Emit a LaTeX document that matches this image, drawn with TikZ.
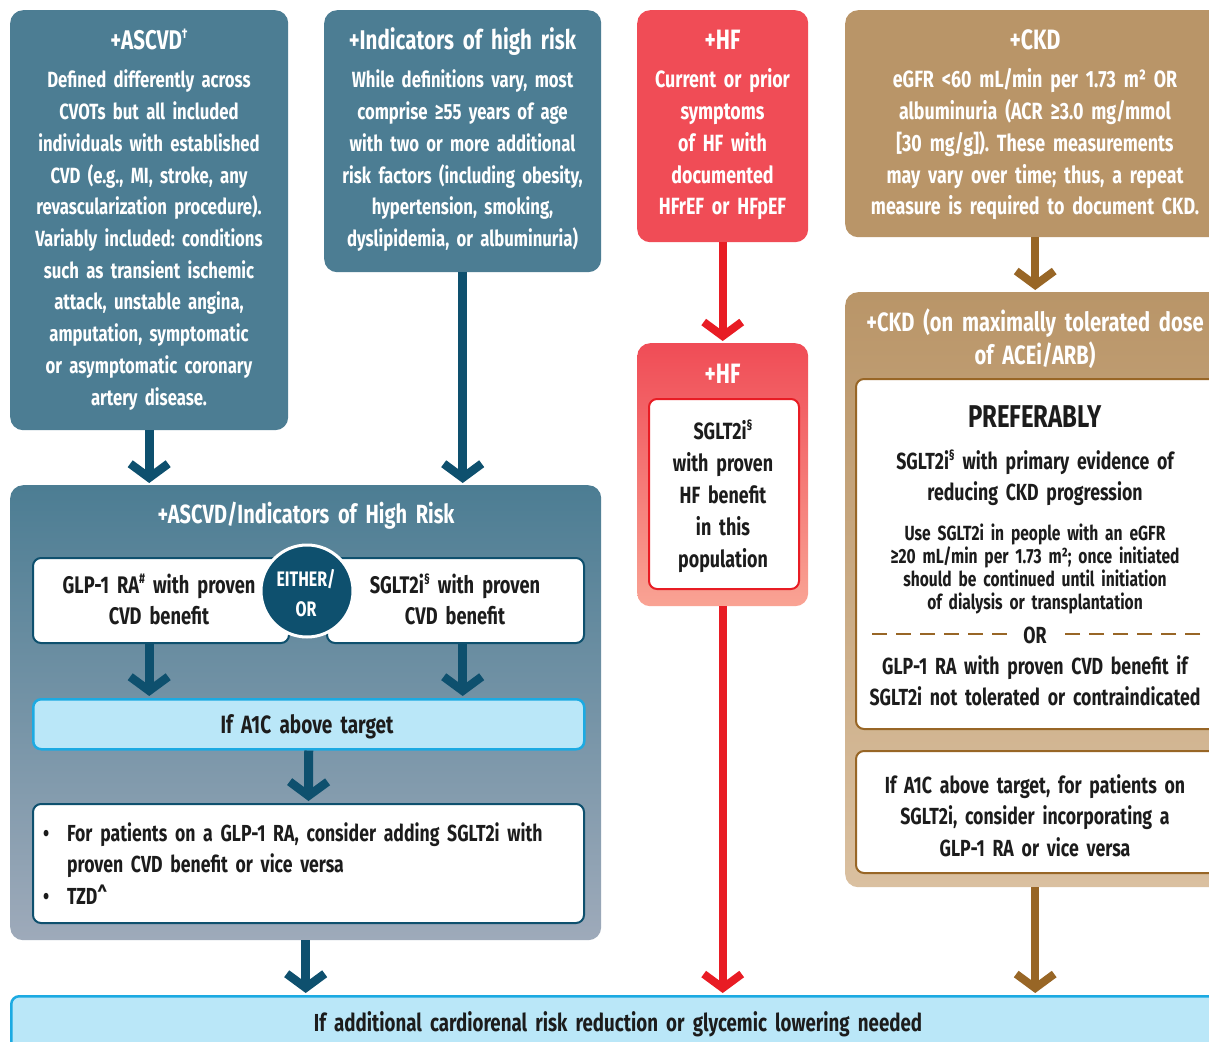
\documentclass[tikz,border=0pt]{standalone}
\usepackage{fontspec}
\setmainfont{Fira Sans}[FakeStretch=0.76, WordSpace=0.72]
\usetikzlibrary{arrows.meta,calc}
\newcommand\mysupx[1]{\raisebox{0.4em}{\fontsize{14}{14}\selectfont #1}}
\definecolor{ascv}{RGB}{76,125,147}
\definecolor{grayb}{RGB}{158,170,186}
\definecolor{dteal}{RGB}{14,80,110}
\definecolor{hfred}{RGB}{240,76,86}
\definecolor{salmon}{RGB}{249,163,148}
\definecolor{arred}{RGB}{232,28,36}
\definecolor{tan}{RGB}{185,149,104}
\definecolor{tanl}{RGB}{218,192,160}
\definecolor{brn}{RGB}{152,102,38}
\definecolor{lblue}{RGB}{186,231,248}
\definecolor{cyanb}{RGB}{28,170,226}
\definecolor{txt}{RGB}{28,28,28}
\begin{document}
\frenchspacing
\begin{tikzpicture}[x=1pt,y=-1pt,
  box/.style={rounded corners=13pt, inner sep=0pt, anchor=north west},
  wbox/.style={rounded corners=8pt, inner sep=0pt, anchor=north west, fill=white, line width=2pt},
  ttl/.style={text=white, font=\bfseries\fontsize{27}{33}\selectfont, align=center, anchor=base, inner sep=0pt, text width=400pt},
  wbody/.style={text=white, font=\bfseries\fontsize{22}{31.7}\selectfont, align=center, anchor=base, inner sep=0pt, text width=400pt},
  dbody/.style={text=txt, font=\bfseries\fontsize{23.3}{31.5}\selectfont, align=center, anchor=base, inner sep=0pt, text width=400pt},
  sbody/.style={text=txt, font=\bfseries\fontsize{20.5}{23}\selectfont, align=center, anchor=base, inner sep=0pt, text width=400pt},
  arrT/.style={draw=dteal, line width=9pt, -{Straight Barb[length=14pt,width=38pt,line width=8.5pt]}, shorten >=2pt},
  arrR/.style={draw=arred, line width=8pt, -{Straight Barb[length=14pt,width=38pt,line width=8pt]}, shorten >=2pt},
  arrB/.style={draw=brn, line width=8pt, -{Straight Barb[length=14pt,width=38pt,line width=8pt]}, shorten >=2pt}
]
\clip (0,0) rectangle (1209,1041);
\fill[white] (0,0) rectangle (1209,1041);

% ---------- top boxes ----------
\node[box, fill=ascv, minimum width=278pt, minimum height=420pt] (ascvd) at (10,10) {};
\node[ttl] (ascvdT) at (149,49) {+ASCVD\mysupx{†}};
\node[wbody] (ascvdB) at (149,88) {Defined differently across\\CVOTs but all included\\individuals with established\\CVD (e.g., MI, stroke, any\\revascularization procedure).\\Variably included: conditions\\such as transient ischemic\\attack, unstable angina,\\amputation, symptomatic\\or asymptomatic coronary\\artery disease.};

\node[box, fill=ascv, minimum width=277pt, minimum height=262pt] (ind) at (324,10) {};
\node[ttl] (indT) at (462.5,49) {+Indicators of high risk};
\node[wbody] (indB) at (462.5,88) {While definitions vary, most\\comprise ≥55 years of age\\with two or more additional\\risk factors (including obesity,\\hypertension, smoking,\\dyslipidemia, or albuminuria)};

\node[box, fill=hfred, minimum width=171pt, minimum height=232pt] (hf) at (637,10) {};
\node[ttl, font=\bfseries\fontsize{28}{33}\selectfont] (hfT) at (722.5,49) {+HF};
\node[wbody, font=\bfseries\fontsize{23.5}{31.7}\selectfont] (hfB) at (722.5,88) {Current or prior\\symptoms\\of HF with\\documented\\HFrEF or HFpEF};

\node[box, fill=tan, minimum width=380pt, minimum height=227pt] (ckd) at (845,10) {};
\node[ttl, font=\bfseries\fontsize{28}{33}\selectfont] (ckdT) at (1035,49) {+CKD};
\node[wbody, font=\bfseries\fontsize{23.5}{31.7}\selectfont] (ckdB) at (1035,88) {eGFR <60 mL/min per 1.73 m² OR\\albuminuria (ACR ≥3.0 mg/mmol\\{[}30 mg/g{]}). These measurements\\may vary over time; thus, a repeat\\measure is required to document CKD.};

% ---------- ASCVD / indicators box ----------
\node[box, top color=ascv, bottom color=grayb, minimum width=591pt, minimum height=455pt] (mid) at (10,485) {};
\node[ttl, font=\bfseries\fontsize{26.3}{33}\selectfont] (midT) at (306,523) {+ASCVD/Indicators of High Risk};
\node[wbox, draw=dteal, minimum width=256pt, minimum height=85pt] (glp) at (32,557) {};
\node[wbox, draw=dteal, minimum width=257pt, minimum height=85pt] (sglt) at (326,557) {};
\node[dbody, font=\bfseries\fontsize{24}{31.5}\selectfont] (glpT) at (159,593) {GLP-1 RA\mysupx{\#} with proven\\CVD benefit};
\node[dbody, font=\bfseries\fontsize{24}{31.5}\selectfont] (sgltT) at (455,593) {SGLT2i\mysupx{§} with proven\\CVD benefit};
\node[circle, fill=dteal, draw=white, line width=3pt, minimum size=92pt, inner sep=0pt] (eo) at (307,591) {};
\node[text=white, font=\bfseries\fontsize{21}{30}\selectfont, align=center, anchor=base, inner sep=0pt, text width=90pt] (eoT) at (306,586) {EITHER/\\OR};
\node[wbox, fill=lblue, draw=cyanb, line width=2.5pt, minimum width=551pt, minimum height=50pt] (a1c) at (32,698) {};
\node[dbody, font=\bfseries\fontsize{25}{31.5}\selectfont] (a1cT) at (307,733) {If A1C above target};
\node[wbox, draw=dteal, minimum width=551pt, minimum height=119pt] (opts) at (32,803) {};
\node[text=txt, font=\bfseries\fontsize{23.2}{31.5}\selectfont, anchor=base west, inner sep=0pt] (b1) at (43,841) {•};
\node[text=txt, font=\bfseries\fontsize{23.2}{31.5}\selectfont, anchor=base west, inner sep=0pt] (b2) at (43,904) {•};
\node[text=txt, font=\bfseries\fontsize{23.2}{31.5}\selectfont, align=left, anchor=base west, inner sep=0pt, text width=520pt] (o1) at (67,841) {For patients on a GLP-1 RA, consider adding SGLT2i with\\proven CVD benefit or vice versa};
\node[text=txt, font=\bfseries\fontsize{23.2}{31.5}\selectfont, anchor=base west, inner sep=0pt] (o2) at (67,904) {TZD\textasciicircum};

% ---------- HF box ----------
\node[box, top color=hfred, bottom color=salmon, minimum width=171pt, minimum height=263pt] (hf2) at (637,343) {};
\node[ttl, font=\bfseries\fontsize{28}{33}\selectfont] (hf2T) at (722.5,383) {+HF};
\node[wbox, draw=arred, minimum width=150pt, minimum height=190pt] (hfin) at (648,398) {};
\node[dbody, font=\bfseries\fontsize{23.5}{32}\selectfont] (hfinT) at (723,439) {SGLT2i\mysupx{§}\\with proven\\HF benefit\\in this\\population};

% ---------- CKD box ----------
\node[box, top color=tan, bottom color=tanl, minimum width=380pt, minimum height=595pt] (ckd2) at (845,292) {};
\node[ttl, font=\bfseries\fontsize{26.5}{33}\selectfont] (ckd2T) at (1035,331) {+CKD (on maximally tolerated dose\\of ACEi/ARB)};
\node[wbox, draw=brn, minimum width=370pt, minimum height=350pt] (ckdin) at (855,378) {};
\node[dbody, font=\bfseries\fontsize{31.5}{34}\selectfont] (pref) at (1035,427) {PREFERABLY};
\node[dbody] (ckdS) at (1035,469) {SGLT2i\mysupx{§} with primary evidence of\\reducing CKD progression};
\node[sbody] (ckdU) at (1035,540) {Use SGLT2i in people with an eGFR\\≥20 mL/min per 1.73 m²; once initiated\\should be continued until initiation\\of dialysis or transplantation};
\node[dbody, text width=40pt, fill=white, inner xsep=5pt] (ckdOR) at (1035,643) {OR};
\draw[brn, line width=2.5pt, dash pattern=on 15pt off 9pt] (872,634) -- (ckdOR.west |- 0,634);
\draw[brn, line width=2.5pt, dash pattern=on 15pt off 9pt] (1200,634) -- (ckdOR.east |- 0,634);
\node[dbody] (ckdG) at (1035,674) {GLP-1 RA with proven CVD benefit if\\SGLT2i not tolerated or contraindicated};
\node[wbox, draw=brn, minimum width=370pt, minimum height=122pt] (ckdin2) at (855,750) {};
\node[dbody] (ckdA) at (1035,793) {If A1C above target, for patients on\\SGLT2i, consider incorporating a\\GLP-1 RA or vice versa};

% ---------- bottom bar ----------
\node[wbox, fill=lblue, draw=cyanb, line width=2.5pt, minimum width=1215pt, minimum height=60pt] (bar) at (10,995) {};
\node[dbody, font=\bfseries\fontsize{24.6}{31.5}\selectfont, text width=800pt] (barT) at (618,1031) {If additional cardiorenal risk reduction or glycemic lowering needed};

% ---------- connectors ----------
\draw[arrT] (ascvd.south) -- (ascvd.south |- mid.north);
\draw[arrT] (ind.south) -- (ind.south |- mid.north);
\draw[arrR] (hf.south) -- (hf2.north);
\draw[arrB] (ckd.south) -- (ckd2.north);
\draw[arrT] (ascvd.south |- glp.south) -- (ascvd.south |- a1c.north);
\draw[arrT] (ind.south |- sglt.south) -- (ind.south |- a1c.north);
\draw[arrT] (a1c.south) -- (opts.north);
\draw[arrT] (mid.south) -- (mid.south |- bar.north);
\draw[arrR] (hf2.south) -- (hf2.south |- bar.north);
\draw[arrB] (ckd2.south) -- (ckd2.south |- bar.north);
\end{tikzpicture}
\end{document}
